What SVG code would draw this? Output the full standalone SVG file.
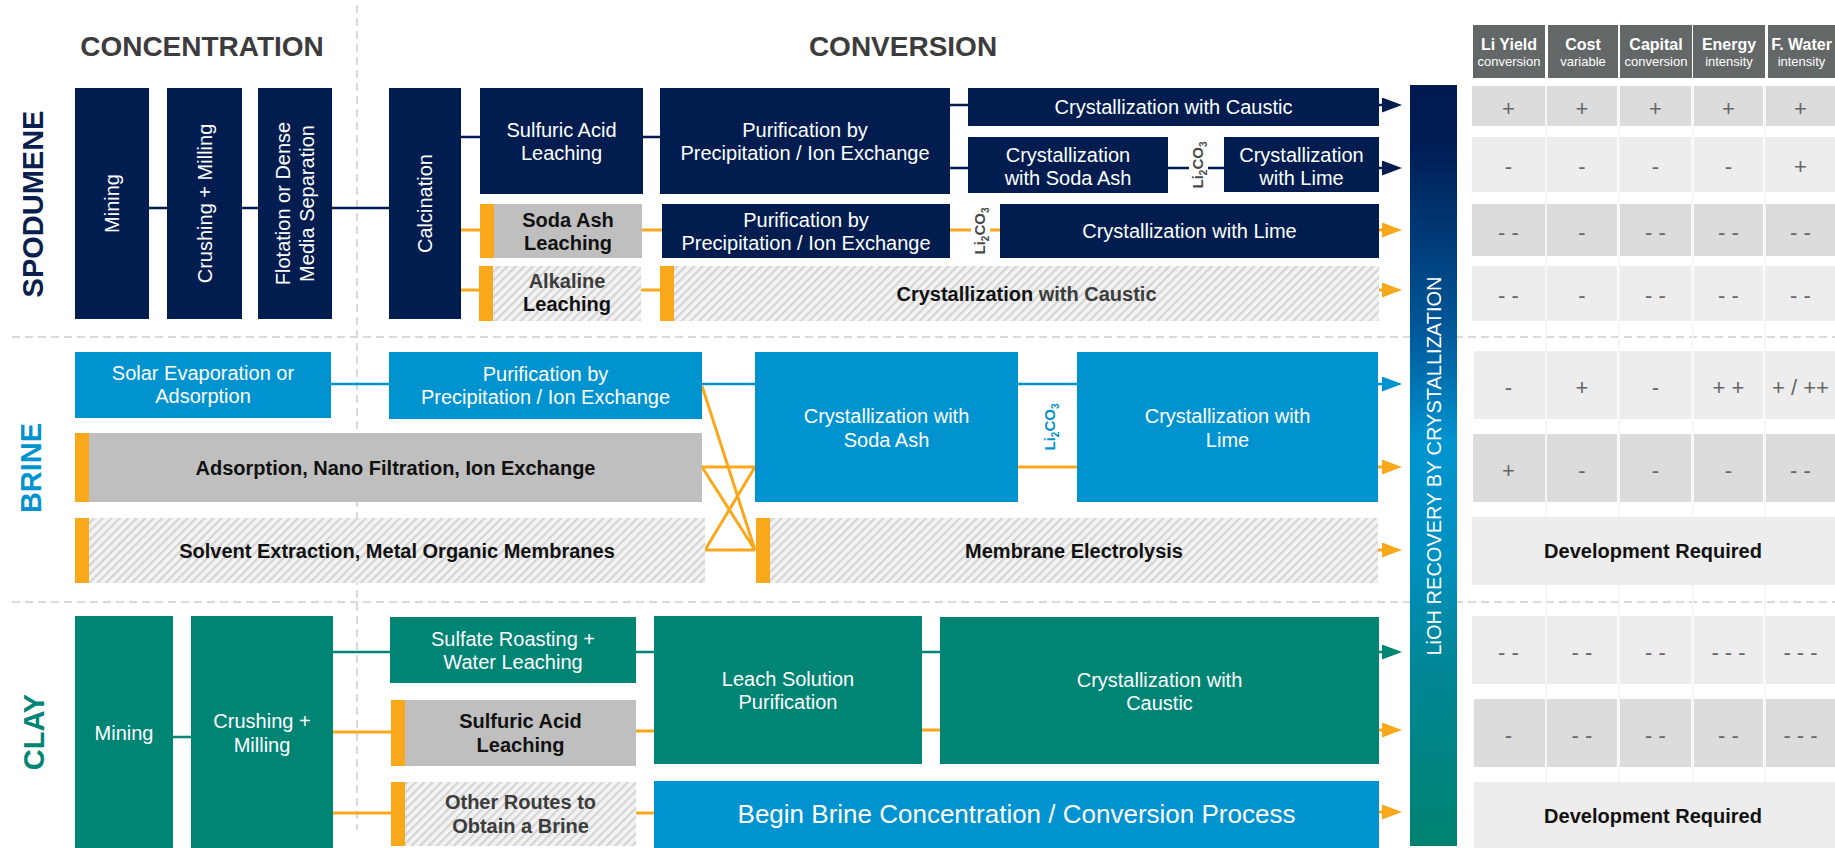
<svg xmlns="http://www.w3.org/2000/svg" width="1835" height="848" viewBox="0 0 1835 848">
<defs>
<pattern id="hatch" patternUnits="userSpaceOnUse" width="6" height="6" patternTransform="rotate(45)">
<rect width="6" height="6" fill="#f3f3f3"/>
<rect x="0" y="0" width="2.2" height="6" fill="#d4d4d4"/>
</pattern>
<linearGradient id="lioh" x1="0" y1="0" x2="0" y2="1">
<stop offset="0" stop-color="#001a50"/>
<stop offset="0.07" stop-color="#001b52"/>
<stop offset="0.33" stop-color="#005a9c"/>
<stop offset="0.47" stop-color="#0094d0"/>
<stop offset="0.62" stop-color="#0090c0"/>
<stop offset="0.75" stop-color="#00879a"/>
<stop offset="1" stop-color="#00826f"/>
</linearGradient>
<marker id="aN" markerUnits="userSpaceOnUse" viewBox="0 0 20 15" markerWidth="20" markerHeight="15" refX="13" refY="7.5" orient="auto"><path d="M0,0 L20,7.5 L0,15 z" fill="#011d4f"/></marker>
<marker id="aO" markerUnits="userSpaceOnUse" viewBox="0 0 20 15" markerWidth="20" markerHeight="15" refX="13" refY="7.5" orient="auto"><path d="M0,0 L20,7.5 L0,15 z" fill="#f9a81b"/></marker>
<marker id="aB" markerUnits="userSpaceOnUse" viewBox="0 0 20 15" markerWidth="20" markerHeight="15" refX="13" refY="7.5" orient="auto"><path d="M0,0 L20,7.5 L0,15 z" fill="#0093d0"/></marker>
<marker id="aT" markerUnits="userSpaceOnUse" viewBox="0 0 20 15" markerWidth="20" markerHeight="15" refX="13" refY="7.5" orient="auto"><path d="M0,0 L20,7.5 L0,15 z" fill="#008474"/></marker>
</defs>
<style>
.t{font-family:"Liberation Sans",Arial,sans-serif;font-size:20px;text-anchor:middle}
.w{fill:#ffffff}
.k{fill:#111111;font-weight:bold}
.g{fill:#3c3c3c;font-weight:bold}
.navy{fill:#011d4f}
.blue{fill:#0093d0}
.teal{fill:#008474}
.org{fill:#f9a81b}
.gry{fill:#bfbfbf}
.hat{fill:url(#hatch)}
.cn{stroke:#011d4f;stroke-width:2.5;fill:none}
.co{stroke:#f9a81b;stroke-width:3;fill:none}
.cb{stroke:#0093d0;stroke-width:2.5;fill:none}
.ct{stroke:#008474;stroke-width:2.5;fill:none}
.dash{stroke:#d9d9d9;stroke-width:2;stroke-dasharray:8 5;fill:none}
.hd{fill:#646767}
.c1{fill:#dcdcdc}
.c2{fill:#ededed}
.v{fill:#666666;font-size:22px}
.h1{fill:#ffffff;font-weight:bold;font-size:16px}
.h2{fill:#ffffff;font-size:13px}
.li{font-weight:bold;font-size:15px}
.big{font-size:26px}
.sec{font-family:"Liberation Sans",Arial,sans-serif;font-weight:bold;font-size:28px;text-anchor:middle}
.lab{font-size:29px}
</style>

<g id="grid">
<path class="dash" d="M357,5 V830"/>
<path class="dash" d="M12,337 H1835"/>
<path class="dash" d="M12,602 H1835"/>
<path d="M1546,86 V846 M1619,86 V846 M1692.5,86 V846 M1765,86 V846" stroke="#f6f6f6" stroke-width="2"/>
</g>

<g id="headings">
<text class="sec" x="202" y="56" fill="#3c3c3c">CONCENTRATION</text>
<text class="sec" x="903" y="56" fill="#3c3c3c">CONVERSION</text>
<text class="sec lab" transform="translate(33,204) rotate(-90)" y="10" fill="#0b1f4f">SPODUMENE</text>
<text class="sec lab" transform="translate(31,468) rotate(-90)" y="10" fill="#0093d0">BRINE</text>
<text class="sec lab" transform="translate(34,732) rotate(-90)" y="10" fill="#008474">CLAY</text>
</g>

<g id="connectors">
<path class="cn" d="M149,208 H167 M242,208 H258 M332,208 H389 M461,137 H480 M643,137 H660 M950,105 H968 M950,168 H968 M1168,168 H1189 M1208,168 H1224"/>
<path class="co" d="M461,230 H480 M461,290 H479 M642,230 H662 M641,290 H660 M950,230 H971 M990,230 H1000"/>
<path class="cn" d="M1379,105 H1395" marker-end="url(#aN)"/>
<path class="cn" d="M1379,168 H1395" marker-end="url(#aN)"/>
<path class="co" d="M1379,230 H1395" marker-end="url(#aO)"/>
<path class="co" d="M1379,290 H1395" marker-end="url(#aO)"/>
<path class="cb" d="M331,384 H389 M702,384 H755 M1018,384 H1077"/>
<path class="co" d="M702,386 L755,550 M702,467 H755 M702,467 L755,550 M705,550 H755 M705,550 L755,467 M1018,467 H1077"/>
<path class="cb" d="M1378,384 H1395" marker-end="url(#aB)"/>
<path class="co" d="M1378,467 H1395" marker-end="url(#aO)"/>
<path class="co" d="M1378,550 H1395" marker-end="url(#aO)"/>
<path class="ct" d="M173,737 H191 M333,652 H390 M636,652 H654 M922,652 H940"/>
<path class="co" d="M333,732 H391 M333,813 H391 M636,731 H654 M636,813 H654 M922,730 H940"/>
<path class="ct" d="M1379,652 H1395" marker-end="url(#aT)"/>
<path class="co" d="M1379,730 H1395" marker-end="url(#aO)"/>
<path class="co" d="M1379,812 H1395" marker-end="url(#aO)"/>
</g>

<!-- SPODUMENE -->
<g id="sp-mining"><rect class="navy" x="75" y="88" width="74" height="231"/><text class="t w" transform="translate(112,203.5) rotate(-90)" y="7">Mining</text></g>
<g id="sp-crushing"><rect class="navy" x="167" y="88" width="75" height="231"/><text class="t w" transform="translate(204.5,203.5) rotate(-90)" y="7">Crushing + Milling</text></g>
<g id="sp-flotation"><rect class="navy" x="258" y="88" width="74" height="231"/><text class="t w" transform="translate(295,203.5) rotate(-90)"><tspan x="0" y="-5">Flotation or Dense</tspan><tspan x="0" y="19">Media Separation</tspan></text></g>
<g id="sp-calcination"><rect class="navy" x="389" y="88" width="72" height="231"/><text class="t w" transform="translate(425,203.5) rotate(-90)" y="7">Calcination</text></g>
<g id="sp-sulfuric"><rect class="navy" x="480" y="88" width="163" height="106"/><text class="t w"><tspan x="561.5" y="137">Sulfuric Acid</tspan><tspan x="561.5" y="160">Leaching</tspan></text></g>
<g id="sp-purif1"><rect class="navy" x="660" y="88" width="290" height="106"/><text class="t w"><tspan x="805" y="137">Purification by</tspan><tspan x="805" y="160">Precipitation / Ion Exchange</tspan></text></g>
<g id="sp-soda"><rect class="org" x="480" y="204" width="14" height="54"/><rect class="gry" x="494" y="204" width="148" height="54"/><text class="t k"><tspan x="568" y="227">Soda Ash</tspan><tspan x="568" y="250">Leaching</tspan></text></g>
<g id="sp-purif2"><rect class="navy" x="662" y="204" width="288" height="54"/><text class="t w"><tspan x="806" y="227">Purification by</tspan><tspan x="806" y="250">Precipitation / Ion Exchange</tspan></text></g>
<g id="sp-alkaline"><rect class="org" x="479" y="266" width="14" height="55"/><rect class="hat" x="493" y="266" width="148" height="55"/><text class="t"><tspan class="g" x="567" y="288">Alkaline</tspan><tspan class="k" x="567" y="311">Leaching</tspan></text></g>
<g id="sp-cryst-caustic"><rect class="navy" x="968" y="88" width="411" height="38"/><text class="t w" x="1173.5" y="114">Crystallization with Caustic</text></g>
<g id="sp-cryst-soda"><rect class="navy" x="968" y="137" width="200" height="56"/><text class="t w"><tspan x="1068" y="162">Crystallization</tspan><tspan x="1068" y="185">with Soda Ash</tspan></text></g>
<g id="sp-li2co3-a"><text class="t li" fill="#4a4a4a" transform="translate(1198,165) rotate(-90)" y="5">Li<tspan font-size="10" dy="4">2</tspan><tspan dy="-4">CO</tspan><tspan font-size="10" dy="4">3</tspan></text></g>
<g id="sp-cryst-lime1"><rect class="navy" x="1224" y="137" width="155" height="55"/><text class="t w"><tspan x="1301.5" y="162">Crystallization</tspan><tspan x="1301.5" y="185">with Lime</tspan></text></g>
<g id="sp-li2co3-b"><text class="t li" fill="#4a4a4a" transform="translate(980,231) rotate(-90)" y="5">Li<tspan font-size="10" dy="4">2</tspan><tspan dy="-4">CO</tspan><tspan font-size="10" dy="4">3</tspan></text></g>
<g id="sp-cryst-lime2"><rect class="navy" x="1000" y="204" width="379" height="54"/><text class="t w" x="1189.5" y="238">Crystallization with Lime</text></g>
<g id="sp-cryst-caustic2"><rect class="org" x="660" y="266" width="14" height="55"/><rect class="hat" x="674" y="266" width="705" height="55"/><text class="t" x="1026.5" y="301"><tspan class="k">Crystallization</tspan><tspan class="g"> with Caustic</tspan></text></g>

<!-- BRINE -->
<g id="br-solar"><rect class="blue" x="75" y="352" width="256" height="66"/><text class="t w"><tspan x="203" y="380">Solar Evaporation or</tspan><tspan x="203" y="403">Adsorption</tspan></text></g>
<g id="br-purif"><rect class="blue" x="389" y="352" width="313" height="67"/><text class="t w"><tspan x="545.5" y="381">Purification by</tspan><tspan x="545.5" y="404">Precipitation / Ion Exchange</tspan></text></g>
<g id="br-adsorption"><rect class="org" x="75" y="433" width="14" height="69"/><rect class="gry" x="89" y="433" width="613" height="69"/><text class="t k" x="395.5" y="475">Adsorption, Nano Filtration, Ion Exchange</text></g>
<g id="br-solvent"><rect class="org" x="75" y="518" width="14" height="65"/><rect class="hat" x="89" y="518" width="616" height="65"/><text class="t k" x="397" y="558">Solvent Extraction, Metal Organic Membranes</text></g>
<g id="br-cryst-soda"><rect class="blue" x="755" y="352" width="263" height="150"/><text class="t w"><tspan x="886.5" y="423">Crystallization with</tspan><tspan x="886.5" y="447">Soda Ash</tspan></text></g>
<g id="br-li2co3"><text class="t li" fill="#0093d0" transform="translate(1050,427) rotate(-90)" y="5">Li<tspan font-size="10" dy="4">2</tspan><tspan dy="-4">CO</tspan><tspan font-size="10" dy="4">3</tspan></text></g>
<g id="br-cryst-lime"><rect class="blue" x="1077" y="352" width="301" height="150"/><text class="t w"><tspan x="1227.5" y="423">Crystallization with</tspan><tspan x="1227.5" y="447">Lime</tspan></text></g>
<g id="br-membrane"><rect class="org" x="756" y="518" width="14" height="65"/><rect class="hat" x="770" y="518" width="608" height="65"/><text class="t k" x="1074" y="558">Membrane Electrolysis</text></g>

<!-- CLAY -->
<g id="cl-mining"><rect class="teal" x="75" y="616" width="98" height="232"/><text class="t w" x="124" y="740">Mining</text></g>
<g id="cl-crushing"><rect class="teal" x="191" y="616" width="142" height="232"/><text class="t w"><tspan x="262" y="728">Crushing +</tspan><tspan x="262" y="752">Milling</tspan></text></g>
<g id="cl-sulfate"><rect class="teal" x="390" y="617" width="246" height="66"/><text class="t w"><tspan x="513" y="646">Sulfate Roasting +</tspan><tspan x="513" y="669">Water Leaching</tspan></text></g>
<g id="cl-sulfuric"><rect class="org" x="391" y="700" width="14" height="66"/><rect class="gry" x="405" y="700" width="231" height="66"/><text class="t k"><tspan x="520.5" y="728">Sulfuric Acid</tspan><tspan x="520.5" y="752">Leaching</tspan></text></g>
<g id="cl-other"><rect class="org" x="391" y="782" width="14" height="64"/><rect class="hat" x="405" y="782" width="231" height="64"/><text class="t g"><tspan x="520.5" y="809">Other Routes to</tspan><tspan x="520.5" y="833">Obtain a Brine</tspan></text></g>
<g id="cl-leach"><rect class="teal" x="654" y="616" width="268" height="148"/><text class="t w"><tspan x="788" y="686">Leach Solution</tspan><tspan x="788" y="709">Purification</tspan></text></g>
<g id="cl-cryst"><rect class="teal" x="940" y="617" width="439" height="147"/><text class="t w"><tspan x="1159.5" y="687">Crystallization with</tspan><tspan x="1159.5" y="710">Caustic</tspan></text></g>
<g id="cl-begin"><rect class="blue" x="654" y="781" width="725" height="67"/><text class="t w big" x="1016.5" y="823">Begin Brine Concentration / Conversion Process</text></g>

<!-- LiOH bar -->
<g id="lioh"><rect x="1410" y="85" width="47" height="761" fill="url(#lioh)"/><text class="t w" transform="translate(1433.5,466) rotate(-90)" y="7">LiOH RECOVERY BY CRYSTALLIZATION</text></g>

<!-- TABLE -->
<g id="table-header">
<rect class="hd" x="1473" y="25" width="72" height="53"/><rect class="hd" x="1548" y="25" width="70" height="53"/><rect class="hd" x="1620" y="25" width="72" height="53"/><rect class="hd" x="1693" y="25" width="72" height="53"/><rect class="hd" x="1768" y="25" width="67" height="53"/>
<text class="t h1" x="1509" y="50">Li Yield</text><text class="t h2" x="1509" y="66">conversion</text>
<text class="t h1" x="1583" y="50">Cost</text><text class="t h2" x="1583" y="66">variable</text>
<text class="t h1" x="1656" y="50">Capital</text><text class="t h2" x="1656" y="66">conversion</text>
<text class="t h1" x="1729" y="50">Energy</text><text class="t h2" x="1729" y="66">intensity</text>
<text class="t h1" x="1801.5" y="50">F. Water</text><text class="t h2" x="1801.5" y="66">intensity</text>
</g>
<g id="table-spodumene">
<rect class="c1" x="1472" y="86" width="73" height="40"/><rect class="c1" x="1547" y="86" width="70" height="40"/><rect class="c1" x="1620" y="86" width="71" height="40"/><rect class="c1" x="1694" y="86" width="69" height="40"/><rect class="c1" x="1766" y="86" width="69" height="40"/>
<rect class="c2" x="1472" y="137" width="73" height="55"/><rect class="c2" x="1547" y="137" width="70" height="55"/><rect class="c2" x="1620" y="137" width="71" height="55"/><rect class="c2" x="1694" y="137" width="69" height="55"/><rect class="c2" x="1766" y="137" width="69" height="55"/>
<rect class="c1" x="1472" y="204" width="73" height="52"/><rect class="c1" x="1547" y="204" width="70" height="52"/><rect class="c1" x="1620" y="204" width="71" height="52"/><rect class="c1" x="1694" y="204" width="69" height="52"/><rect class="c1" x="1766" y="204" width="69" height="52"/>
<rect class="c2" x="1472" y="266" width="73" height="55"/><rect class="c2" x="1547" y="266" width="70" height="55"/><rect class="c2" x="1620" y="266" width="71" height="55"/><rect class="c2" x="1694" y="266" width="69" height="55"/><rect class="c2" x="1766" y="266" width="69" height="55"/>
<text class="t v" x="1508.5" y="116">+</text><text class="t v" x="1582" y="116">+</text><text class="t v" x="1655.5" y="116">+</text><text class="t v" x="1728.5" y="116">+</text><text class="t v" x="1800.5" y="116">+</text>
<text class="t v" x="1508.5" y="174">-</text><text class="t v" x="1582" y="174">-</text><text class="t v" x="1655.5" y="174">-</text><text class="t v" x="1728.5" y="174">-</text><text class="t v" x="1800.5" y="174">+</text>
<text class="t v" x="1508.5" y="240">- -</text><text class="t v" x="1582" y="240">-</text><text class="t v" x="1655.5" y="240">- -</text><text class="t v" x="1728.5" y="240">- -</text><text class="t v" x="1800.5" y="240">- -</text>
<text class="t v" x="1508.5" y="303">- -</text><text class="t v" x="1582" y="303">-</text><text class="t v" x="1655.5" y="303">- -</text><text class="t v" x="1728.5" y="303">- -</text><text class="t v" x="1800.5" y="303">- -</text>
</g>
<g id="table-brine">
<rect class="c2" x="1474" y="351" width="71" height="68"/><rect class="c2" x="1547" y="351" width="70" height="68"/><rect class="c2" x="1620" y="351" width="71" height="68"/><rect class="c2" x="1694" y="351" width="69" height="68"/><rect class="c2" x="1766" y="351" width="69" height="68"/>
<rect class="c1" x="1473" y="434" width="72" height="68"/><rect class="c1" x="1547" y="434" width="70" height="68"/><rect class="c1" x="1620" y="434" width="71" height="68"/><rect class="c1" x="1694" y="434" width="69" height="68"/><rect class="c1" x="1766" y="434" width="69" height="68"/>
<rect class="c2" x="1472" y="517" width="363" height="68"/>
<text class="t v" x="1508.5" y="395">-</text><text class="t v" x="1582" y="395">+</text><text class="t v" x="1655.5" y="395">-</text><text class="t v" x="1728.5" y="395">+ +</text><text class="t v" x="1800.5" y="395">+ / ++</text>
<text class="t v" x="1508.5" y="478">+</text><text class="t v" x="1582" y="478">-</text><text class="t v" x="1655.5" y="478">-</text><text class="t v" x="1728.5" y="478">-</text><text class="t v" x="1800.5" y="478">- -</text>
<text class="t k" x="1653" y="558">Development Required</text>
</g>
<g id="table-clay">
<rect class="c2" x="1472" y="616" width="73" height="68"/><rect class="c2" x="1547" y="616" width="70" height="68"/><rect class="c2" x="1620" y="616" width="71" height="68"/><rect class="c2" x="1694" y="616" width="69" height="68"/><rect class="c2" x="1766" y="616" width="69" height="68"/>
<rect class="c1" x="1474" y="699" width="71" height="68"/><rect class="c1" x="1547" y="699" width="70" height="68"/><rect class="c1" x="1620" y="699" width="71" height="68"/><rect class="c1" x="1694" y="699" width="69" height="68"/><rect class="c1" x="1766" y="699" width="69" height="68"/>
<rect class="c2" x="1474" y="782" width="361" height="66"/>
<text class="t v" x="1508.5" y="660">- -</text><text class="t v" x="1582" y="660">- -</text><text class="t v" x="1655.5" y="660">- -</text><text class="t v" x="1728.5" y="660">- - -</text><text class="t v" x="1800.5" y="660">- - -</text>
<text class="t v" x="1508.5" y="743">-</text><text class="t v" x="1582" y="743">- -</text><text class="t v" x="1655.5" y="743">- -</text><text class="t v" x="1728.5" y="743">- -</text><text class="t v" x="1800.5" y="743">- - -</text>
<text class="t k" x="1653" y="823">Development Required</text>
</g>
</svg>
